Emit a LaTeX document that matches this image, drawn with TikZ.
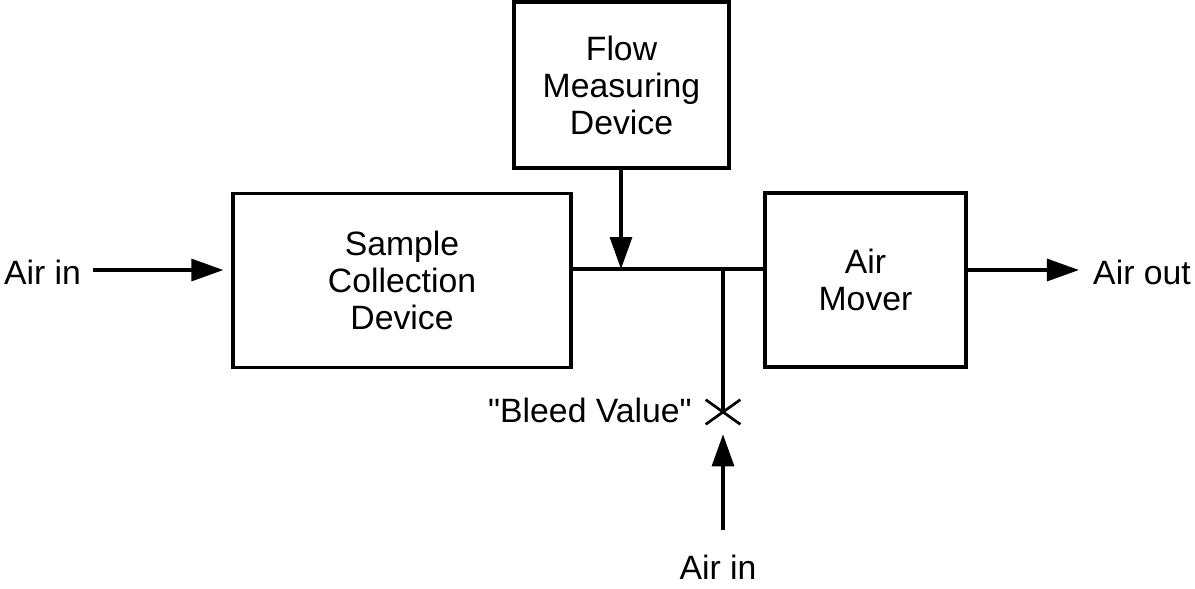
\documentclass[tikz,border=0pt]{standalone}
\usepackage{fontspec}
\setmainfont{Liberation Sans}
\newfontfamily\quotefont{Liberation Sans}
\usetikzlibrary{arrows.meta,shapes.misc}
\begin{document}
\begin{tikzpicture}[x=0.025cm, y=-0.025cm, line width=2.3pt,
  every node/.style={font=\fontsize{24}{26.3}\selectfont, align=center},
  unit/.style={draw, inner sep=0pt},
  flowarrow/.style={-{Triangle[length=0.8cm, width=0.55cm]}}]
\useasboundingbox (0,0) rectangle (1195,588);
% boxes
\node[unit, minimum width=8.45cm, minimum height=4.35cm] (sample) at (402,280.5) {Sample\\Collection\\Device};
\node[unit, minimum width=5.375cm, minimum height=4.15cm] (flow) at (621.5,85) {Flow\\Measuring\\Device};
\node[unit, minimum width=5.025cm, minimum height=4.35cm] (mover) at (865.5,280) {Air\\Mover};
% air labels
\node (ainl) at (42.5,272) {Air in};
\node (aout) at (1142,272) {Air out};
\node (ainb) at (718,567) {Air in};
% line and valve
\coordinate (tee) at (621,269);
\coordinate (bleed) at (723,267);
\node[cross out, draw, minimum width=0.8cm, minimum height=0.55cm, inner sep=0pt, line width=1.9pt] (valve) at (723,412) {};
\node[anchor=east] (vlabel) at (698,410) {\quotefont "Bleed Value"};
\draw (sample.east |- tee) -- (mover.west |- tee);
\draw (bleed) -- (valve.center);
\draw[flowarrow] (flow.south -| tee) -- (tee);
\draw[flowarrow, shorten <=0.15cm, shorten >=0.2cm] (ainl.east |- 0,270) -- (sample.west |- 0,270);
\draw[flowarrow, shorten >=0.2cm] (mover.east |- 0,270) -- (aout.west |- 0,270);
\draw[flowarrow] (valve |- 0,530) -- ([yshift=-0.25cm]valve.south);
\end{tikzpicture}
\end{document}
